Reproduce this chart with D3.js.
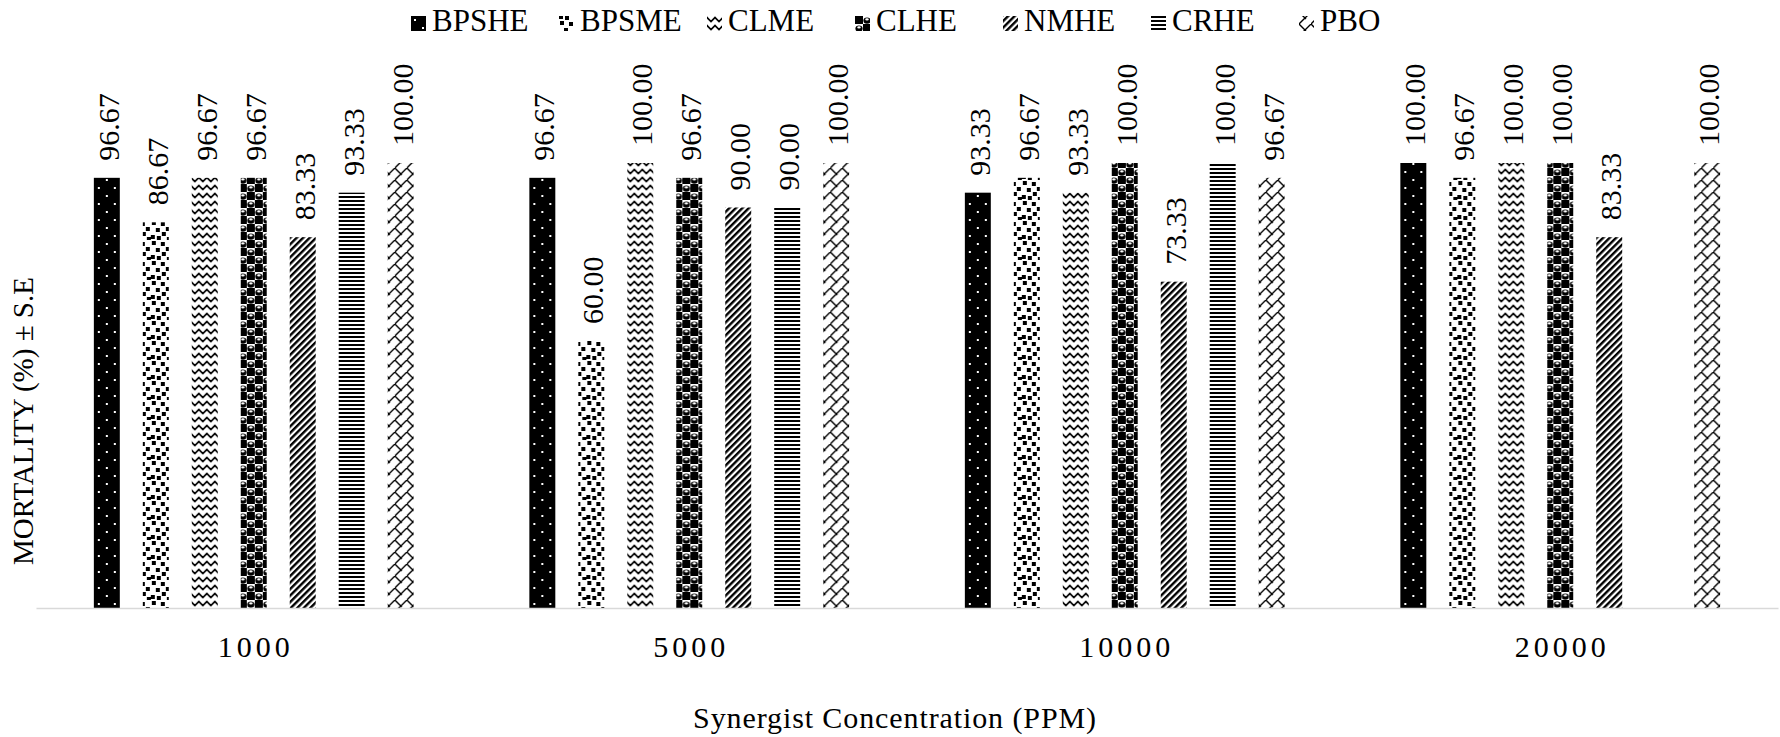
<!DOCTYPE html>
<html>
<head>
<meta charset="utf-8">
<script src="https://cdn.jsdelivr.net/npm/d3@7"></script>
<style>
  body { margin: 0; background: #fff; }
  svg text { font-family: "Liberation Serif", "Times New Roman", serif; fill: #000; }
</style>
</head>
<body>
<svg id="chart" width="1780" height="737" font-family="Liberation Serif, Times New Roman, serif"></svg>
<script>
// Concentrations on the x axis
const categories = ["1000", "5000", "10000", "20000"];
// Extract names (legend order)
const seriesNames = ["BPSHE", "BPSME", "CLME", "CLHE", "NMHE", "CRHE", "PBO"];
// Mortality (%) per concentration for each extract
const BPSHE = [96.67, 96.67, 93.33, 100.00];
const BPSME = [86.67, 60.00, 96.67, 96.67];
const CLME  = [96.67, 100.00, 93.33, 100.00];
const CLHE  = [96.67, 96.67, 100.00, 100.00];
const NMHE  = [83.33, 90.00, 73.33, 83.33];
const CRHE  = [93.33, 90.00, 100.00, null];
const PBO   = [100.00, 100.00, 96.67, 100.00];
const seriesValues = [BPSHE, BPSME, CLME, CLHE, NMHE, CRHE, PBO];

const svg = d3.select("#chart");
const defs = svg.append("defs");

// ---- black & white fill patterns, one per extract ----
function pattern(id, w, h, extra) {
  const p = defs.append("pattern")
    .attr("id", id)
    .attr("patternUnits", "userSpaceOnUse")
    .attr("width", w).attr("height", h);
  if (extra) p.attr("patternTransform", extra);
  return p;
}

// BPSHE: black with sparse white dots
{
  const p = pattern("pat-BPSHE", 16, 16);
  p.append("rect").attr("width", 16).attr("height", 16).attr("fill", "#000");
  p.append("rect").attr("x", 3).attr("y", 3).attr("width", 2).attr("height", 2).attr("fill", "#fff");
  p.append("rect").attr("x", 11).attr("y", 11).attr("width", 2).attr("height", 2).attr("fill", "#fff");
}
// BPSME: confetti squares
{
  const p = pattern("pat-BPSME", 20, 20);
  p.append("rect").attr("width", 20).attr("height", 20).attr("fill", "#fff");
  const sq = [[1,1],[10,2],[15,7],[5,8],[11,12],[0,15],[6,16],[16,17]];
  sq.forEach(([x, yy]) => p.append("rect").attr("x", x).attr("y", yy)
    .attr("width", 4).attr("height", 4).attr("fill", "#000"));
}
// CLME: zigzag waves
{
  const p = pattern("pat-CLME", 8, 8);
  p.append("rect").attr("width", 8).attr("height", 8).attr("fill", "#fff");
  p.append("path").attr("d", "M-2,3.5 L0,1.5 L4,5.5 L8,1.5 L10,3.5")
    .attr("fill", "none").attr("stroke", "#000").attr("stroke-width", 1.7);
}
// CLHE: sphere checker
{
  const p = pattern("pat-CLHE", 16, 16);
  p.append("rect").attr("width", 16).attr("height", 16).attr("fill", "#fff");
  [[0,0],[8,8]].forEach(([x, yy]) => {
    p.append("rect").attr("x", x).attr("y", yy).attr("width", 8).attr("height", 8).attr("fill", "#000");
  });
  [[8,0],[0,8]].forEach(([x, yy]) => {
    p.append("ellipse").attr("cx", x + 4).attr("cy", yy + 4.6).attr("rx", 3.6).attr("ry", 3.2).attr("fill", "#000");
    p.append("ellipse").attr("cx", x + 4).attr("cy", yy + 3.4).attr("rx", 1.8).attr("ry", 1.1).attr("fill", "#fff");
  });
}
// NMHE: wide upward diagonal
{
  const p = pattern("pat-NMHE", 4.6, 4.6, "rotate(45)");
  p.append("rect").attr("width", 4.6).attr("height", 4.6).attr("fill", "#fff");
  p.append("rect").attr("width", 2.4).attr("height", 4.6).attr("fill", "#000");
}
// CRHE: horizontal lines
{
  const p = pattern("pat-CRHE", 4, 4);
  p.append("rect").attr("width", 4).attr("height", 4).attr("fill", "#fff");
  p.append("rect").attr("width", 4).attr("height", 2).attr("fill", "#000");
}
// PBO: shingle
{
  const p = pattern("pat-PBO", 12, 12);
  p.append("rect").attr("width", 12).attr("height", 12).attr("fill", "#fff");
  p.append("path").attr("d", "M-1,13 L13,-1 M-1,-1 L7,7")
    .attr("fill", "none").attr("stroke", "#000").attr("stroke-width", 1.4);
}

// ---- scales ----
const x0 = d3.scaleBand().domain(categories).range([36, 1778])
  .paddingInner(0.16).paddingOuter(0.08);
const x1 = d3.scaleBand().domain(seriesNames).range([0, x0.bandwidth()]).padding(0.47);
const y = d3.scaleLinear().domain([0, 100]).range([608, 163]);

// ---- bars ----
const groups = svg.append("g").selectAll("g")
  .data(categories)
  .join("g")
  .attr("transform", d => `translate(${x0(d)},0)`);

const cells = groups.selectAll("g.cell")
  .data((c, ci) => seriesNames.map((s, si) => ({ s, v: seriesValues[si][ci] })))
  .join("g").attr("class", "cell");

cells.filter(d => d.v != null).append("rect")
  .attr("x", d => x1(d.s))
  .attr("y", d => y(d.v))
  .attr("width", x1.bandwidth())
  .attr("height", d => y(0) - y(d.v))
  .attr("fill", d => `url(#pat-${d.s})`);

cells.filter(d => d.v != null).append("text")
  .attr("transform", d => `translate(${x1(d.s) + x1.bandwidth() / 2 + 12},${y(d.v) - 17}) rotate(-90)`)
  .attr("text-anchor", "start")
  .style("font-size", "30px")
  .text(d => d3.format(".2f")(d.v));

// ---- x axis ----
const xAxis = svg.append("g")
  .attr("transform", `translate(0,${y(0)})`)
  .call(d3.axisBottom(x0).tickSize(0).tickPadding(28));
xAxis.attr("font-family", null).attr("font-size", null);
xAxis.select(".domain").attr("stroke", "#d9d9d9").attr("stroke-width", 1.5);
xAxis.selectAll("text").style("font-size", "30px").style("letter-spacing", "4px")
  .attr("dx", "2px");

// ---- axis titles ----
svg.append("text")
  .attr("x", 895).attr("y", 728)
  .attr("text-anchor", "middle")
  .style("font-size", "30px").style("letter-spacing", "0.9px")
  .text("Synergist Concentration (PPM)");

svg.append("text")
  .attr("transform", "translate(33,421) rotate(-90)")
  .attr("text-anchor", "middle")
  .style("font-size", "29px")
  .text("MORTALITY (%) ± S.E");

// ---- legend ----
const legend = svg.append("g").selectAll("g")
  .data(seriesNames)
  .join("g")
  .attr("transform", (d, i) => `translate(${411 + i * 148},0)`);
legend.append("rect")
  .attr("x", 0).attr("y", 16).attr("width", 15).attr("height", 15)
  .attr("fill", d => `url(#pat-${d})`);
legend.append("text")
  .attr("x", 21).attr("y", 31)
  .style("font-size", "31px")
  .text(d => d);
</script>
</body>
</html>
